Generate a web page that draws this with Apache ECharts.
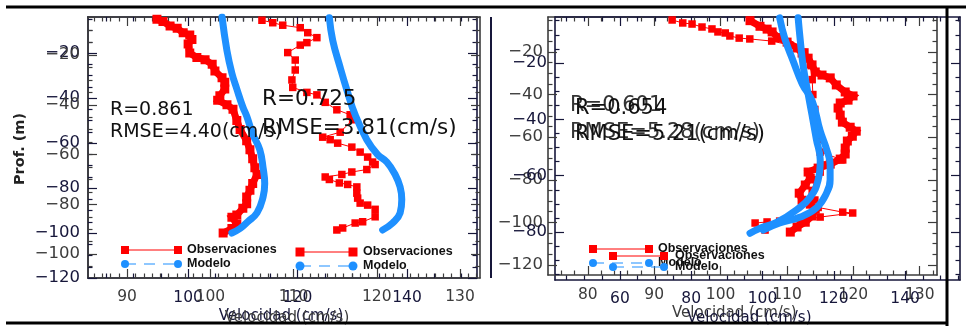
<!DOCTYPE html>
<html><head><meta charset="utf-8">
<script src="https://cdn.jsdelivr.net/npm/echarts@6/dist/echarts.min.js"></script>
<style>html,body{margin:0;padding:0;background:#fff}#c{width:966px;height:326px}</style>
</head><body><div id="c"></div>
<script>
// Velocity profiles: each point is [velocity (cm/s), depth (m)]
const obsA = [[94.3,-5],[95.4,-6],[96.7,-8],[98.0,-9],[99.1,-11],[100.3,-12],[100.7,-14],[100.0,-16],[100.3,-20],[101.6,-22],[103.1,-23],[104.4,-25],[104.9,-28],[106.2,-31],[106.7,-33],[106.7,-36],[105.8,-39],[105.4,-41],[107.1,-43],[108.2,-45],[108.9,-50],[109.5,-54],[110.7,-59],[111.3,-63],[111.8,-67],[112.2,-71],[112.6,-74],[111.8,-78],[111.3,-81],[110.7,-84],[110.7,-87],[110.0,-89],[108.9,-92],[108.0,-93],[108.9,-96],[108.0,-98],[106.4,-100]];
const modA = [[106.2,-4],[107.1,-19],[108.0,-29],[108.9,-36],[110.0,-44],[110.7,-48],[111.8,-56],[113.1,-63],[113.7,-71],[114.0,-78],[113.7,-84],[112.6,-91],[110.9,-95],[109.5,-98],[108.0,-100]];

const obsB = [[106.2,-6],[107.5,-7],[108.7,-8],[110.8,-9],[111.7,-11],[112.8,-13],[111.6,-15],[110.8,-16],[109.3,-19],[110.2,-22],[110.2,-26],[109.8,-30],[109.9,-33],[111.6,-35],[112.8,-36],[113.8,-39],[115.2,-42],[116.8,-44],[117.1,-46],[115.6,-51],[113.5,-53],[114.4,-54],[115.3,-55.4],[117.0,-57],[118.0,-59],[118.9,-61],[119.5,-63],[119.8,-64],[118.8,-66],[117.0,-67],[115.8,-68],[113.8,-69],[114.3,-70],[115.5,-71.4],[116.5,-72],[117.6,-73],[117.6,-75.5],[117.7,-77.5],[118.0,-79.5],[118.9,-80.3],[119.8,-82],[119.8,-85],[118.3,-87],[117.4,-87.5],[115.9,-89.5],[115.2,-90.3]];
const modB = [[114.3,-5],[114.7,-14],[115.6,-25],[116.4,-34],[117.4,-44],[118.8,-54],[120.1,-60],[121.2,-63],[122.2,-68],[122.8,-73],[123.0,-78],[122.8,-83.5],[121.9,-87.5],[120.7,-90.3]];

const obsC = [[92.7,-5],[94.3,-6.4],[95.7,-6.9],[97.2,-8.3],[98.7,-9.2],[99.6,-10.6],[100.7,-11.1],[101.4,-12.5],[102.8,-13.5],[104.4,-13.9],[107.7,-14.9],[110.4,-16.7],[112.7,-20],[113.5,-26],[113.8,-33],[113.9,-40],[114.2,-47],[114.4,-54],[114.7,-61],[115.0,-67],[118.4,-70.7],[116.0,-73],[115.0,-76.4],[114.2,-80],[113.8,-85],[114.2,-89.5],[114.7,-93],[118.4,-95.2],[119.9,-95.6],[115.0,-97.5],[112.0,-99],[108.9,-99.4],[107.0,-99.8],[105.2,-100.3],[106.7,-103.6]];
const modC = [[108.9,-4],[109.7,-14],[110.9,-24],[112.3,-35],[113.8,-43],[115.0,-57],[116.0,-66],[116.5,-73],[116.5,-80],[116.0,-86],[114.5,-93],[112.0,-97.5],[108.9,-100.3],[106.4,-103.6]];

const obsD = [[96.5,-5],[99.3,-7],[101.3,-8],[102.7,-9],[104.4,-11],[106.9,-12.6],[109.7,-14.7],[111.1,-16.5],[112.8,-18.3],[113.9,-20.7],[114.8,-23.2],[116.7,-24.3],[119.0,-25.3],[120.7,-27.8],[123.2,-30.3],[125.4,-31.7],[124.0,-33.2],[121.8,-34.2],[121.2,-36],[121.8,-38.5],[122.4,-41],[124.6,-42.8],[126.3,-44.2],[125.2,-46],[123.8,-47.7],[123.2,-50.2],[123.2,-52.3],[121.8,-54.1],[119.0,-55.9],[115.6,-57.3],[112.8,-58.7],[113.4,-60.9],[112.0,-63.3],[110.3,-66.2],[111.1,-68.7],[113.4,-70.1],[114.8,-71.9],[113.9,-74.3],[112.0,-76.5],[109.7,-78.2],[107.8,-80]];
const modD = [[110.0,-4],[110.6,-12],[111.4,-21],[112.8,-31],[113.9,-38.5],[115.1,-47],[116.2,-54.5],[115.6,-61.6],[113.4,-67.6],[109.7,-72],[104.1,-76.5],[99.3,-78.6],[96.5,-80.4]];

// Statistics printed in each panel
const statsA = ['R=0.861', 'RMSE=4.40(cm/s)'];
const statsB = ['R=0.725', 'RMSE=3.81(cm/s)'];
const statsC = ['R=0.601', 'RMSE=5.28(cm/s)'];
const statsD = ['R=0.654', 'RMSE=5.21(cm/s)'];

// Tick values
const xTicksA = [100, 120, 140];
const yTicksA = [-20, -40, -60, -80, -100, -120];
const xTicksB = [90, 100, 110, 120, 130];
const yTicksB = [-20, -40, -60, -80, -100];
const xTicksC = [80, 90, 100, 110, 120, 130];
const yTicksC = [-20, -40, -60, -80, -100, -120];
const xTicksD = [60, 80, 100, 120, 140];
const yTicksD = [-20, -40, -60, -80];

const legendNames = ['Observaciones', 'Modelo'];
const xTitle = 'Velocidad (cm/s)';
const yTitle = 'Prof. (m)';

const RED = '#ff0000', BLUE = '#1e90ff';
const DARK = '#16163a', GREY = '#3c3c3c';

function steps(a, b, s, skip) {
  const r = [];
  for (let v = a; v <= b + 1e-9; v += s) {
    const w = +v.toFixed(3);
    if (!skip.includes(w)) r.push(w);
  }
  return r;
}
function fmt(v) { return v < 0 ? '\u2212' + (-v) : String(v); }

const grids = [], xAxes = [], yAxes = [];
function addBox(c) {
  const g = grids.length;
  grids.push(Object.assign({}, c.rect));
  grids.push(Object.assign({}, c.rect));
  const line = { show: true, onZero: false, lineStyle: { color: c.color, width: 1.6 } };
  const tick = (vals, len) => ({ show: true, inside: true, length: len, customValues: vals, lineStyle: { color: c.color, width: 1.2 } });
  const lab = (vals, m, size) => ({ show: true, customValues: vals, margin: m, color: c.labelColor, fontFamily: 'DejaVu Sans', fontSize: size, formatter: fmt });
  const off = { show: false };
  const xMinor = steps(c.x[0] - (c.x[0] % c.xStep), c.x[1], c.xStep, c.xMajor).filter(v => v > c.x[0] && v < c.x[1]);
  const yMinor = steps(Math.ceil(c.y[0] / c.yStep) * c.yStep, c.y[1], c.yStep, c.yMajor);
  const xi = xAxes.length, yi = yAxes.length;
  const xb = { type: 'value', min: c.x[0], max: c.x[1], splitLine: off };
  const yb = { type: 'value', min: c.y[0], max: c.y[1], splitLine: off };
  xAxes.push(Object.assign({}, xb, { gridIndex: g, position: 'bottom', axisLine: line, axisTick: tick(c.xMajor, 9), axisLabel: lab(c.xMajor, c.xMargin, 15.5) }));
  xAxes.push(Object.assign({}, xb, { gridIndex: g, position: 'top', axisLine: line, axisTick: tick(c.xMajor, 9), axisLabel: off }));
  xAxes.push(Object.assign({}, xb, { gridIndex: g + 1, position: 'bottom', axisLine: off, axisTick: tick(xMinor, 4.5), axisLabel: off }));
  xAxes.push(Object.assign({}, xb, { gridIndex: g + 1, position: 'top', axisLine: off, axisTick: tick(xMinor, 4.5), axisLabel: off }));
  yAxes.push(Object.assign({}, yb, { gridIndex: g, position: 'left', axisLine: line, axisTick: tick(c.yMajor, 9), axisLabel: lab(c.yMajor, c.yMargin, 16.5) }));
  yAxes.push(Object.assign({}, yb, { gridIndex: g, position: 'right', axisLine: line, axisTick: tick(c.yMajor, 9), axisLabel: off }));
  yAxes.push(Object.assign({}, yb, { gridIndex: g + 1, position: 'left', axisLine: off, axisTick: tick(yMinor, 4.5), axisLabel: off }));
  yAxes.push(Object.assign({}, yb, { gridIndex: g + 1, position: 'right', axisLine: off, axisTick: tick(yMinor, 4.5), axisLabel: off }));
  return { x: xi, y: yi };
}

const axA = addBox({ rect: { left: 88, top: 17, width: 389, height: 261 }, x: [81.7, 152.8], y: [-120, -4],
  xMajor: xTicksA, yMajor: yTicksA, xStep: 5, yStep: 5, color: DARK, labelColor: DARK, xMargin: 12, yMargin: 8 });
const axB = addBox({ rect: { left: 88, top: 17, width: 392, height: 261 }, x: [85.3, 132.4], y: [-109.6, -4.7],
  xMajor: xTicksB, yMajor: yTicksB, xStep: 1, yStep: 5, color: GREY, labelColor: GREY, xMargin: 11, yMargin: 8 });
const axC = addBox({ rect: { left: 548, top: 17, width: 389, height: 258 }, x: [74, 132.6], y: [-124.7, -3.6],
  xMajor: xTicksC, yMajor: yTicksC, xStep: 2, yStep: 5, color: GREY, labelColor: GREY, xMargin: 12, yMargin: 5 });
const axD = addBox({ rect: { left: 555, top: 17, width: 405, height: 263 }, x: [41.8, 155.4], y: [-97, -3.7],
  xMajor: xTicksD, yMajor: yTicksD, xStep: 5, yStep: 5, color: DARK, labelColor: DARK, xMargin: 11, yMargin: 8 });

function obsSeries(ax, data, dense) {
  return { type: 'line', xAxisIndex: ax.x, yAxisIndex: ax.y, data, clip: true, z: 3,
    symbol: 'rect', symbolSize: dense ? 9 : 7.5, itemStyle: { color: RED },
    lineStyle: { color: RED, width: dense ? 7 : 1, join: 'miter' } };
}
function modSeries(ax, data) {
  return { type: 'line', xAxisIndex: ax.x, yAxisIndex: ax.y, data, clip: true, z: 4,
    smooth: 0.45, symbol: 'none', lineStyle: { color: BLUE, width: 7, cap: 'round' } };
}

function textEl(x, y, text, font, fill, align) {
  return { type: 'text', z: 10, x, y, style: { text, font, fill: fill || '#111', align: align || 'left', verticalAlign: 'middle' } };
}
function legendEl(x1, x2, yObs, yMod, xt, size) {
  const s = size || 8;
  return [
    { type: 'line', z: 10, shape: { x1, y1: yObs, x2, y2: yObs }, style: { stroke: RED, lineWidth: 1 } },
    { type: 'rect', z: 10, shape: { x: x1 - s / 2, y: yObs - s / 2, width: s, height: s }, style: { fill: RED } },
    { type: 'rect', z: 10, shape: { x: x2 - s / 2, y: yObs - s / 2, width: s, height: s }, style: { fill: RED } },
    textEl(xt, yObs, legendNames[0], 'bold 12.5px "Liberation Sans"'),
    { type: 'line', z: 10, shape: { x1, y1: yMod, x2, y2: yMod }, style: { stroke: BLUE, lineWidth: 1.2, lineDash: [11, 8] } },
    { type: 'circle', z: 10, shape: { cx: x1, cy: yMod, r: s / 2 }, style: { fill: BLUE } },
    { type: 'circle', z: 10, shape: { cx: x2, cy: yMod, r: s / 2 }, style: { fill: BLUE } },
    textEl(xt, yMod, legendNames[1], 'bold 12.5px "Liberation Sans"')
  ];
}

const graphic = [
  { type: 'line', z: 20, shape: { x1: 6, y1: 7, x2: 966, y2: 7 }, style: { stroke: '#000', lineWidth: 3 } },
  { type: 'line', z: 20, shape: { x1: 6, y1: 323, x2: 947, y2: 323 }, style: { stroke: '#000', lineWidth: 3 } },
  { type: 'line', z: 20, shape: { x1: 947, y1: 6, x2: 947, y2: 326 }, style: { stroke: '#000', lineWidth: 3 } },
  { type: 'line', z: 20, shape: { x1: 491, y1: 17, x2: 491, y2: 278 }, style: { stroke: DARK, lineWidth: 2 } },
  textEl(110, 110, statsA[0], '19px "DejaVu Sans"'),
  textEl(110, 132, statsA[1], '19px "DejaVu Sans"'),
  textEl(262, 99, statsB[0], '21.5px "DejaVu Sans"'),
  textEl(262, 128, statsB[1], '21.5px "DejaVu Sans"'),
  textEl(570, 106, statsC[0], '21px "DejaVu Sans"', '#333'),
  textEl(570, 133, statsC[1], '21px "DejaVu Sans"', '#333'),
  textEl(575, 109, statsD[0], '21px "DejaVu Sans"'),
  textEl(575, 135, statsD[1], '21px "DejaVu Sans"'),
  textEl(281, 316, xTitle, '15px "DejaVu Sans"', DARK, 'center'),
  textEl(287, 318, xTitle, '15px "DejaVu Sans"', GREY, 'center'),
  textEl(672, 313, xTitle, '15px "DejaVu Sans"', GREY),
  textEl(687, 318, xTitle, '15px "DejaVu Sans"', DARK),
  { type: 'text', z: 10, x: 20, y: 149, rotation: Math.PI / 2,
    style: { text: yTitle, font: 'bold 14.5px "DejaVu Sans"', fill: '#222', align: 'center', verticalAlign: 'middle' } }
].concat(
  legendEl(125, 178, 250, 264, 187, 8),
  legendEl(300, 353, 252, 266, 363, 9),
  legendEl(593, 649, 249, 263, 658, 8),
  legendEl(613, 664, 256, 267, 675, 8)
);

const chart = echarts.init(document.getElementById('c'), null, { renderer: 'canvas' });
chart.setOption({
  animation: false,
  backgroundColor: '#fff',
  grid: grids,
  xAxis: xAxes,
  yAxis: yAxes,
  series: [
    obsSeries(axA, obsA, true), modSeries(axA, modA),
    obsSeries(axB, obsB, false), modSeries(axB, modB),
    obsSeries(axC, obsC, false), modSeries(axC, modC),
    obsSeries(axD, obsD, true), modSeries(axD, modD)
  ],
  graphic
});
</script>
</body></html>
